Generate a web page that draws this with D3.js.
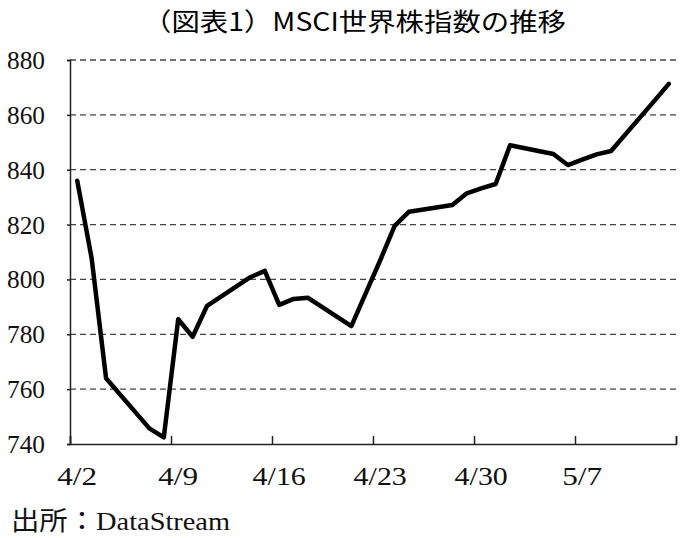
<!DOCTYPE html>
<html>
<head>
<meta charset="utf-8">
<script src="https://cdn.jsdelivr.net/npm/d3@7"></script>
<style>
  body { margin: 0; background: #fff; }
  svg { display: block; }
</style>
</head>
<body>
<svg id="chart"></svg>
<script>
/* data (2025, trading days) */
const dates = ["4/2", "4/3", "4/4", "4/7", "4/8", "4/9", "4/10", "4/11", "4/14", "4/15",
  "4/16", "4/17", "4/18", "4/21", "4/22", "4/23", "4/24", "4/25", "4/28", "4/29",
  "4/30", "5/1", "5/2", "5/5", "5/6", "5/7", "5/8", "5/9", "5/12", "5/13"];
const values = [836, 807.7, 764, 745.7, 742.4, 785.5, 779.1, 790.4, 800.8, 803.1,
  790.7, 792.9, 793.3, 783, 795, 807, 819.5, 824.7, 827.1, 831.4,
  833.2, 834.8, 848.9, 845.7, 841.7, 843.7, 845.6, 846.8, 865.1, 871.3];
const xTickLabels = ["4/2", "4/9", "4/16", "4/23", "4/30", "5/7"];
const yTicks = [740, 760, 780, 800, 820, 840, 860, 880];

const title = "（図表1）MSCI世界株指数の推移";
const source = "出所：DataStream";

/* chart */
(function() {
  let width = 691, height = 538;
  let margin = {top: 60, right: 15, bottom: 94, left: 70};

  let svg = d3.select("#chart")
    .attr("width", width)
    .attr("height", height);

  let parse = s => {
    let [m, d] = s.split("/").map(Number);
    return new Date(2025, m - 1, d);
  };
  let day = 24 * 3600 * 1000;
  let first = parse(dates[0]);
  let last = new Date(parse(dates[dates.length - 1]).getTime() + day);

  // each day is a band, points sit in the middle of their day
  let x = d3.scaleTime()
    .domain([first, last])
    .range([margin.left, width - margin.right]);
  let y = d3.scaleLinear()
    .domain([740, 880])
    .range([height - margin.bottom, margin.top]);
  let mid = s => x(new Date(parse(s).getTime() + day / 2));

  // mono-ish width for the half-width text
  let fit = (sel, w) => sel.attr("textLength", w).attr("lengthAdjust", "spacingAndGlyphs");

  // gridlines
  svg.append("g")
    .selectAll("line")
    .data(yTicks.filter(v => v > 740))
    .enter().append("line")
    .attr("x1", margin.left)
    .attr("x2", width - margin.right)
    .attr("y1", d => y(d))
    .attr("y2", d => y(d))
    .attr("stroke", "#444")
    .attr("stroke-width", 1.3)
    .attr("stroke-dasharray", "6,4");

  // y axis
  let yAxis = svg.append("g")
    .attr("transform", "translate(" + margin.left + ",0)")
    .call(d3.axisLeft(y).tickValues(yTicks).tickSize(3).tickFormat(d3.format("d")));
  yAxis.select(".domain").attr("stroke", "#222").attr("stroke-width", 1.5);
  yAxis.selectAll(".tick line").attr("stroke", "#222").attr("stroke-width", 1.5);
  yAxis.selectAll(".tick text")
    .attr("x", -25)
    .attr("dy", "0.34em")
    .style("font-family", "'Liberation Serif', serif")
    .style("font-size", "25px")
    .attr("fill", "#111")
    .attr("text-anchor", "end")
    .each(function() { fit(d3.select(this), 38); });

  // x axis, ticks every 7 days pointing up
  let xTicks = d3.range(0, 7).map(i => new Date(first.getTime() + i * 7 * day));
  let xAxis = svg.append("g")
    .attr("transform", "translate(0," + (height - margin.bottom) + ")")
    .call(d3.axisBottom(x).tickValues(xTicks).tickSize(-8).tickFormat(""));
  xAxis.select(".domain").attr("stroke", "#222").attr("stroke-width", 1.5);
  xAxis.selectAll(".tick line").attr("stroke", "#222").attr("stroke-width", 1.5);

  svg.append("g")
    .selectAll("text")
    .data(xTickLabels)
    .enter().append("text")
    .attr("x", d => mid(d))
    .attr("y", height - margin.bottom + 41)
    .attr("text-anchor", "middle")
    .style("font-family", "'Liberation Serif', serif")
    .style("font-size", "25px")
    .attr("fill", "#111")
    .text(d => d)
    .each(function(d) { fit(d3.select(this), d.length * 13.3); });

  // line
  let line = d3.line()
    .x((d, i) => mid(dates[i]))
    .y(d => y(d));

  svg.append("path")
    .datum(values)
    .attr("fill", "none")
    .attr("stroke", "#000")
    .attr("stroke-width", 4.5)
    .attr("stroke-linejoin", "round")
    .attr("stroke-linecap", "round")
    .attr("d", line);

  // title
  svg.append("text")
    .attr("x", 143)
    .attr("y", 31)
    .style("font-family", "'Noto Sans CJK JP', sans-serif")
    .style("font-size", "25px")
    .attr("fill", "#000")
    .text(title)
    .call(fit, 423);

  // source
  svg.append("text")
    .attr("x", 11)
    .attr("y", 530)
    .style("font-family", "'Liberation Serif', 'Noto Sans CJK JP', serif")
    .style("font-size", "26px")
    .attr("fill", "#111")
    .text(source)
    .call(fit, 219);
})();
</script>
</body>
</html>
